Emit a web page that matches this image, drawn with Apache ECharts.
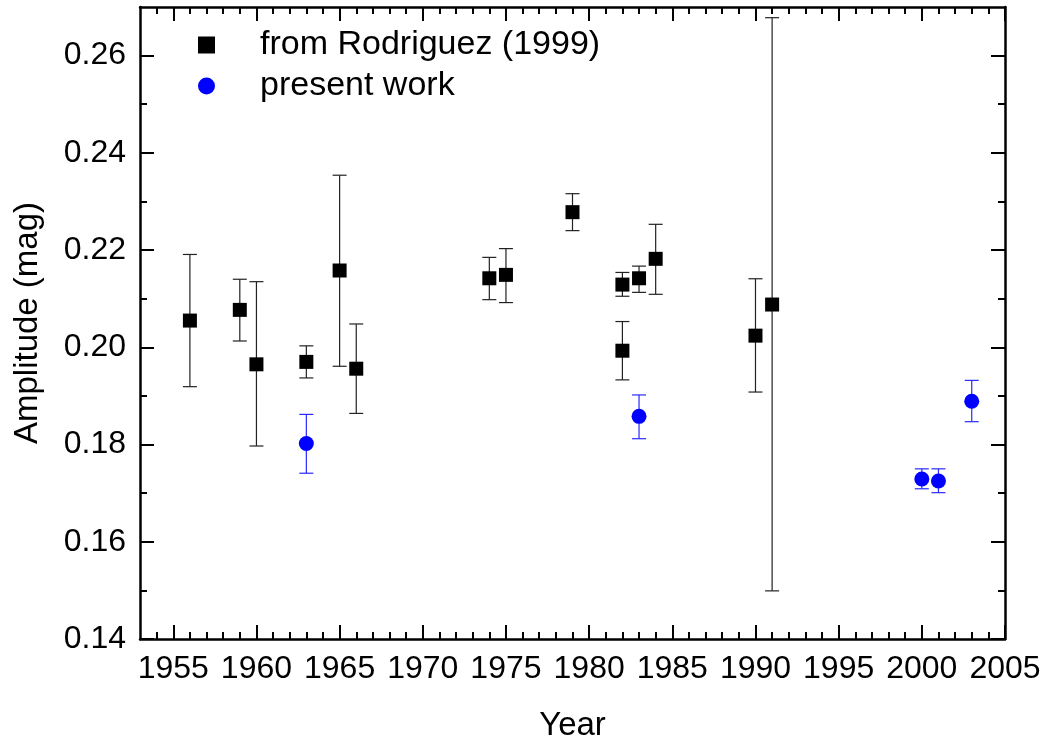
<!DOCTYPE html>
<html>
<head>
<meta charset="utf-8">
<title>Amplitude vs Year</title>
<script src="https://cdn.jsdelivr.net/npm/echarts@6.0.0/dist/echarts.min.js"></script>
<style>
  html, body { margin: 0; padding: 0; background: #fff; }
  #chart { width: 1047px; height: 747px; }
</style>
</head>
<body>
<div id="chart"></div>
<script>
// from Rodriguez (1999)
var rodYears = [1956, 1959, 1960, 1963, 1965, 1966, 1974, 1975, 1979, 1982, 1982, 1983, 1984, 1990, 1991];
var rodAmp   = [0.2055, 0.2077, 0.1965, 0.1970, 0.2158, 0.1956, 0.2142, 0.2149, 0.2278, 0.2129, 0.1993, 0.2142, 0.2182, 0.2024, 0.2088];
var rodLow   = [0.1919, 0.2013, 0.1797, 0.1937, 0.1961, 0.1864, 0.2098, 0.2092, 0.2240, 0.2105, 0.1933, 0.2113, 0.2109, 0.1908, 0.1499];
var rodHigh  = [0.2191, 0.2140, 0.2135, 0.2003, 0.2354, 0.2048, 0.2185, 0.2203, 0.2316, 0.2154, 0.2053, 0.2167, 0.2253, 0.2141, 0.2678];

// present work
var presYears = [1963, 1983, 2000, 2001, 2003];
var presAmp   = [0.1802, 0.1858, 0.1729, 0.1725, 0.1889];
var presLow   = [0.1741, 0.1812, 0.1709, 0.1701, 0.1847];
var presHigh  = [0.1862, 0.1902, 0.1750, 0.1750, 0.1932];

// ticks
var xMajorTicks = [1955, 1960, 1965, 1970, 1975, 1980, 1985, 1990, 1995, 2000, 2005];
var xMinorTicks = [1954, 1956, 1957, 1958, 1959, 1961, 1962, 1963, 1964, 1966, 1967, 1968, 1969,
                   1971, 1972, 1973, 1974, 1976, 1977, 1978, 1979, 1981, 1982, 1983, 1984,
                   1986, 1987, 1988, 1989, 1991, 1992, 1993, 1994, 1996, 1997, 1998, 1999,
                   2001, 2002, 2003, 2004];
var yMajorTicks = [0.14, 0.16, 0.18, 0.20, 0.22, 0.24, 0.26];
var yMinorTicks = [0.15, 0.17, 0.19, 0.21, 0.23, 0.25];

var FONT = '"Liberation Sans", Arial, Helvetica, sans-serif';

function zip(xs, a, b) {
    return xs.map(function (x, i) { return b ? [x, a[i], b[i]] : [x, a[i]]; });
}

//误差棒
function errorBar(color) {
    return function (params, api) {
        var x = api.value(0);
        var top = api.coord([x, api.value(2)]);
        var bot = api.coord([x, api.value(1)]);
        var half = 7;
        var style = {stroke: color, lineWidth: 1.2};
        return {
            type: 'group',
            children: [
                {type: 'line', shape: {x1: top[0], y1: top[1], x2: bot[0], y2: bot[1]}, style: style},
                {type: 'line', shape: {x1: top[0] - half, y1: top[1], x2: top[0] + half, y2: top[1]}, style: style},
                {type: 'line', shape: {x1: bot[0] - half, y1: bot[1], x2: bot[0] + half, y2: bot[1]}, style: style}
            ]
        };
    };
}

function xAxisDef(position, ticks, len, showLine, showLabel) {
    return {
        type: 'value', position: position, min: 1953, max: 2005,
        splitLine: {show: false},
        axisLine: {show: showLine, onZero: false, lineStyle: {color: '#000', width: 2.5}},
        axisTick: {show: true, inside: true, length: len, customValues: ticks, lineStyle: {color: '#000', width: 2}},
        axisLabel: showLabel ? {show: true, customValues: ticks, margin: 14, color: '#000',
                                fontSize: 32, fontFamily: FONT,
                                formatter: function (v) { return String(v); }} : {show: false},
        name: showLabel ? 'Year' : '',
        nameLocation: 'middle', nameGap: 70,
        nameTextStyle: {color: '#000', fontSize: 33, fontFamily: FONT}
    };
}

function yAxisDef(position, ticks, len, showLine, showLabel) {
    return {
        type: 'value', position: position, min: 0.14, max: 0.27,
        splitLine: {show: false},
        axisLine: {show: showLine, onZero: false, lineStyle: {color: '#000', width: 2.5}},
        axisTick: {show: true, inside: true, length: len, customValues: ticks, lineStyle: {color: '#000', width: 2}},
        axisLabel: showLabel ? {show: true, customValues: ticks, margin: 14, color: '#000',
                                fontSize: 32, fontFamily: FONT,
                                formatter: function (v) { return v.toFixed(2); }} : {show: false},
        name: showLabel ? 'Amplitude (mag)' : '',
        nameLocation: 'middle', nameGap: 96,
        nameTextStyle: {color: '#000', fontSize: 33, fontFamily: FONT}
    };
}

var chart = echarts.init(document.getElementById('chart'), null, {renderer: 'canvas'});
chart.setOption({
    animation: false,
    backgroundColor: '#fff',
    grid: {left: 140, right: 42, top: 7, bottom: 107},
    legend: {
        orient: 'vertical',
        left: 193, top: 22,
        itemWidth: 17, itemHeight: 17, itemGap: 5,
        textStyle: {color: '#000', fontSize: 34, fontFamily: FONT, lineHeight: 36, padding: [0, 0, 0, 40]},
        data: [
            {name: 'from Rodriguez (1999)', icon: 'rect'},
            {name: 'present work', icon: 'circle'}
        ]
    },
    xAxis: [
        xAxisDef('bottom', xMajorTicks, 14, true, true),
        xAxisDef('bottom', xMinorTicks, 7, false, false),
        xAxisDef('top', xMajorTicks, 14, true, false),
        xAxisDef('top', xMinorTicks, 7, false, false)
    ],
    yAxis: [
        yAxisDef('left', yMajorTicks, 14, true, true),
        yAxisDef('left', yMinorTicks, 7, false, false),
        yAxisDef('right', yMajorTicks, 14, true, false),
        yAxisDef('right', yMinorTicks, 7, false, false)
    ],
    series: [
        {
            name: 'rodErr', type: 'custom', xAxisIndex: 0, yAxisIndex: 0,
            renderItem: errorBar('#222'),
            encode: {x: 0, y: [1, 2]},
            data: zip(rodYears, rodLow, rodHigh), z: 1
        },
        {
            name: 'presErr', type: 'custom', xAxisIndex: 0, yAxisIndex: 0,
            renderItem: errorBar('#2a2aff'),
            encode: {x: 0, y: [1, 2]},
            data: zip(presYears, presLow, presHigh), z: 1
        },
        {
            name: 'from Rodriguez (1999)', type: 'scatter', xAxisIndex: 0, yAxisIndex: 0,
            symbol: 'rect', symbolSize: 14,
            itemStyle: {color: '#000', opacity: 1},
            data: zip(rodYears, rodAmp), z: 3
        },
        {
            name: 'present work', type: 'scatter', xAxisIndex: 0, yAxisIndex: 0,
            symbol: 'circle', symbolSize: 15,
            itemStyle: {color: '#0000ff', opacity: 1},
            data: zip(presYears, presAmp), z: 3
        }
    ]
});
</script>
</body>
</html>
